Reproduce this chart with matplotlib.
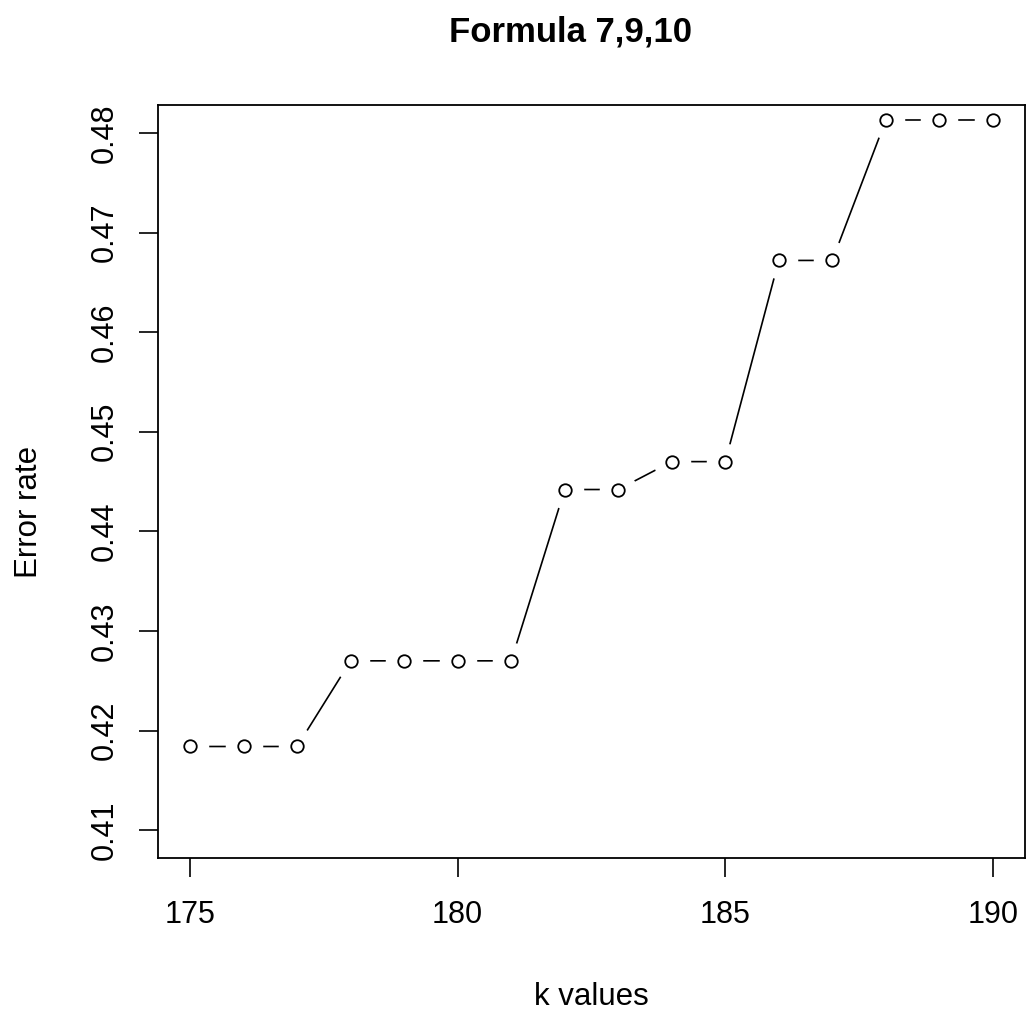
import matplotlib
matplotlib.use("Agg")
import matplotlib.pyplot as plt

# data
k_values = [175, 176, 177, 178, 179, 180, 181, 182, 183, 184, 185, 186, 187, 188, 189, 190]
error_rate = [0.4184, 0.4184, 0.4184, 0.4270, 0.4270, 0.4270, 0.4270, 0.4442, 0.4442,
              0.4470, 0.4470, 0.4672, 0.4672, 0.4813, 0.4813, 0.4813]
x_ticks = [175, 180, 185, 190]
y_ticks = [0.41, 0.42, 0.43, 0.44, 0.45, 0.46, 0.47, 0.48]

plt.rcParams['font.family'] = ['Liberation Sans', 'DejaVu Sans']

fig = plt.figure(figsize=(10.29, 10.14), dpi=100)
ax = fig.add_axes([0.1535, 0.1538, 0.8426, 0.7426])

# type="b" look: line, white discs to cut gaps, then open circles
ax.plot(k_values, error_rate, color='black', lw=1.2, zorder=2)
ax.plot(k_values, error_rate, ls='none', marker='o', ms=27, mfc='white', mec='none', zorder=2.1)
ax.plot(k_values, error_rate, ls='none', marker='o', ms=9, mfc='white', mec='black', mew=1.3, zorder=3)

ax.set_xlim(174.4, 190.6)
ax.set_ylim(0.4072, 0.4828)
ax.set_xticks(x_ticks)
ax.set_yticks(y_ticks)
ax.set_yticklabels([f"{v:.2f}" for v in y_ticks], rotation=90, va='center')
ax.tick_params(length=13.5, width=1.2, labelsize=22)
ax.tick_params(axis='x', pad=17)
ax.tick_params(axis='y', pad=14)
for s in ax.spines.values():
    s.set_linewidth(1.3)
    s.set_zorder(4)

ax.set_xlabel('k values', fontsize=22.5, labelpad=37)
ax.set_ylabel('Error rate', fontsize=22.5)
ax.yaxis.set_label_coords(-0.131, 0.46)
ax.set_title('Formula 7,9,10', fontsize=25, fontweight='bold', pad=46, x=0.476)

fig.savefig('out.png', dpi=100)
